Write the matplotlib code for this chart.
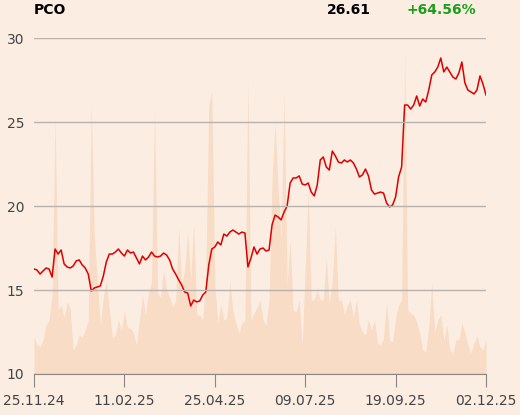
import numpy as np
import matplotlib
matplotlib.use("Agg")
import matplotlib.pyplot as plt


ticker = "PCO"
last_price = "26.61"
change = "+64.56%"

date_labels = ["25.11.24", "11.02.25", "25.04.25", "09.07.25", "19.09.25", "02.12.25"]

# close prices, sampled evenly over the period
price = [
    16.25, 16.19, 15.95, 16.13, 16.31, 16.25, 15.77, 17.44, 17.14, 17.38,
    16.55, 16.37, 16.31, 16.43, 16.73, 16.79, 16.49, 16.31, 15.95, 14.94,
    15.12, 15.18, 15.24, 15.83, 16.67, 17.14, 17.14, 17.26, 17.44, 17.20,
    17.02, 17.38, 17.20, 17.26, 16.90, 16.55, 17.02, 16.79, 16.96, 17.26,
    17.02, 16.96, 17.02, 17.20, 17.08, 16.79, 16.25, 15.95, 15.60, 15.30,
    14.88, 14.82, 14.05, 14.40, 14.29, 14.35, 14.70, 14.88, 16.49, 17.44,
    17.56, 17.86, 17.68, 18.33, 18.21, 18.45, 18.57, 18.45, 18.33, 18.45,
    18.39, 16.37, 16.90, 17.56, 17.14, 17.44, 17.50, 17.32, 17.38, 18.87,
    19.46, 19.35, 19.17, 19.64, 20.00, 21.37, 21.67, 21.67, 21.79, 21.31,
    21.25, 21.37, 20.83, 20.60, 21.25, 22.74, 22.92, 22.32, 22.14, 23.27,
    22.98, 22.62, 22.56, 22.74, 22.62, 22.74, 22.56, 22.20, 21.73, 21.85,
    22.20, 21.79, 20.95, 20.71, 20.77, 20.83, 20.77, 20.18, 19.94, 20.06,
    20.54, 21.73, 22.32, 26.01, 26.01, 25.77, 26.01, 26.55, 25.95, 26.37,
    26.19, 26.90, 27.80, 27.98, 28.27, 28.81, 27.98, 28.27, 27.98, 27.68,
    27.56, 27.92, 28.57, 27.32, 26.90, 26.79, 26.67, 26.90, 27.74, 27.26,
    26.61,
]

# turnover, same sampling (relative units)
volume = [
    37, 29, 27, 34, 49, 54, 79, 257, 64, 69,
    56, 72, 66, 24, 29, 39, 37, 44, 54, 271,
    139, 94, 49, 77, 94, 64, 36, 39, 54, 44,
    64, 46, 46, 41, 29, 54, 79, 59, 81, 92,
    266, 81, 77, 104, 84, 77, 67, 74, 146, 89,
    104, 142, 94, 152, 59, 59, 54, 94, 269, 282,
    89, 51, 69, 54, 56, 92, 64, 51, 41, 51,
    54, 294, 54, 61, 66, 74, 54, 49, 74, 194,
    251, 187, 134, 281, 89, 134, 64, 62, 74, 29,
    104, 184, 74, 74, 84, 74, 74, 116, 69, 94,
    147, 74, 74, 59, 69, 74, 56, 74, 49, 42,
    39, 54, 44, 54, 31, 29, 36, 72, 34, 32,
    56, 69, 74, 321, 64, 61, 59, 52, 41, 24,
    22, 47, 91, 41, 54, 59, 34, 49, 24, 21,
    34, 34, 51, 41, 29, 21, 31, 38, 27, 24,
    34,
]

bg = "#fbede1"
x = np.arange(len(price))

fig = plt.figure(figsize=(5.2, 4.15), dpi=100, facecolor=bg)
ax = fig.add_axes([0.0654, 0.0988, 0.8692, 0.8096])
ax2 = ax.twinx()
ax.set_zorder(ax2.get_zorder() + 1)
ax.patch.set_visible(False)
ax2.set_facecolor(bg)

ax2.fill_between(x, volume, 0, color="#f8dcc6", lw=0)
ax2.set_ylim(0, 336)
ax2.set_yticks([])
for s in ax2.spines.values():
    s.set_visible(False)

ax.plot(x, price, color="#dd0000", lw=1.1)
ax.set_xlim(0, len(price) - 1)
ax.set_ylim(10, 30)
ax.set_yticks([10, 15, 20, 25, 30])
ticks = np.linspace(0, len(price) - 1, len(date_labels))
ax.set_xticks(ticks)
ax.set_xticklabels(date_labels)
ax.grid(axis="y", color="#b8b3ae", lw=1)
ax.set_axisbelow(False)
for side in ["top", "right", "left"]:
    ax.spines[side].set_visible(False)
ax.spines["bottom"].set_color("#8a8684")
ax.tick_params(axis="x", length=9.5, color="#8a8684", labelsize=10,
               labelcolor="#444444", pad=5)
ax.tick_params(axis="y", length=0, labelsize=10, labelcolor="#444444", pad=7)

fig.text(0.0654, 0.976, ticker, fontsize=10, fontweight="bold", va="center")
fig.text(0.629, 0.976, last_price, fontsize=10, fontweight="bold", va="center")
fig.text(0.781, 0.976, change, fontsize=10, fontweight="bold", va="center",
         color="#1a9f1a")

fig.savefig("out.png", dpi=100, facecolor=bg)
